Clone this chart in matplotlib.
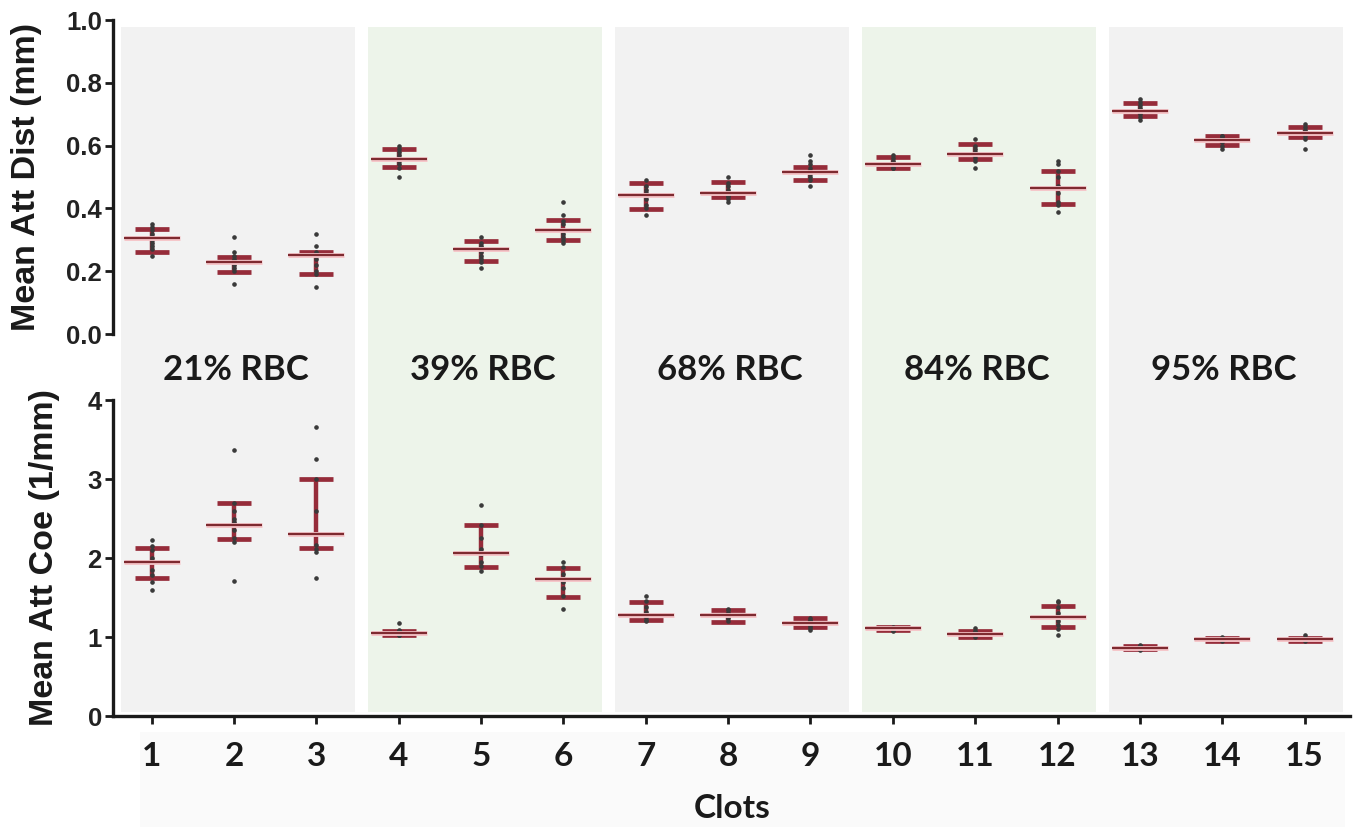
import matplotlib
matplotlib.use("Agg")
import matplotlib.pyplot as plt
import matplotlib.transforms as mtransforms
from matplotlib.patches import Rectangle

clots = list(range(1, 16))
groups = ["21% RBC", "39% RBC", "68% RBC", "84% RBC", "95% RBC"]

# mean attenuation distance (mm)
dist_mean = [0.305, 0.229, 0.252, 0.558, 0.270, 0.331, 0.443, 0.450, 0.517, 0.540, 0.572, 0.466, 0.711, 0.618, 0.639]
dist_hi = [0.334, 0.246, 0.262, 0.589, 0.297, 0.362, 0.480, 0.485, 0.533, 0.565, 0.604, 0.519, 0.737, 0.631, 0.658]
dist_lo = [0.262, 0.198, 0.190, 0.533, 0.232, 0.299, 0.399, 0.437, 0.490, 0.530, 0.556, 0.415, 0.695, 0.602, 0.626]
dist_pts = [
    [0.35, 0.34, 0.33, 0.32, 0.31, 0.30, 0.29, 0.28, 0.27, 0.25],
    [0.31, 0.26, 0.25, 0.24, 0.23, 0.22, 0.21, 0.20, 0.16],
    [0.32, 0.28, 0.26, 0.25, 0.24, 0.22, 0.20, 0.19, 0.15],
    [0.60, 0.59, 0.58, 0.57, 0.56, 0.55, 0.54, 0.53, 0.50],
    [0.31, 0.29, 0.28, 0.27, 0.26, 0.25, 0.24, 0.23, 0.21],
    [0.42, 0.38, 0.36, 0.35, 0.33, 0.32, 0.31, 0.30, 0.29],
    [0.49, 0.47, 0.46, 0.45, 0.44, 0.43, 0.41, 0.40, 0.38],
    [0.50, 0.48, 0.47, 0.46, 0.45, 0.44, 0.44, 0.43, 0.42],
    [0.57, 0.55, 0.54, 0.53, 0.52, 0.51, 0.50, 0.49, 0.47],
    [0.57, 0.56, 0.55, 0.54, 0.54, 0.53, 0.53],
    [0.62, 0.60, 0.59, 0.58, 0.57, 0.56, 0.55, 0.53],
    [0.55, 0.54, 0.52, 0.50, 0.47, 0.45, 0.42, 0.41, 0.39],
    [0.75, 0.74, 0.73, 0.72, 0.71, 0.70, 0.69, 0.68],
    [0.63, 0.63, 0.62, 0.62, 0.61, 0.60, 0.59],
    [0.67, 0.66, 0.65, 0.64, 0.63, 0.62, 0.59],
]

# mean attenuation coefficient (1/mm)
coe_mean = [1.945, 2.418, 2.30, 1.055, 2.06, 1.73, 1.282, 1.282, 1.173, 1.11, 1.038, 1.249, 0.865, 0.97, 0.97]
coe_hi = [2.13, 2.692, 2.996, 1.08, 2.418, 1.877, 1.447, 1.342, 1.236, 1.125, 1.08, 1.392, 0.88, 0.985, 0.99]
coe_lo = [1.743, 2.236, 2.123, 1.03, 1.89, 1.51, 1.215, 1.194, 1.13, 1.085, 1.00, 1.13, 0.845, 0.955, 0.95]
coe_pts = [
    [2.23, 2.15, 2.10, 2.00, 1.95, 1.85, 1.78, 1.70, 1.60],
    [3.37, 2.70, 2.60, 2.50, 2.45, 2.35, 2.25, 2.20, 1.71],
    [3.66, 3.25, 3.00, 2.60, 2.30, 2.17, 2.12, 2.08, 1.75],
    [1.18, 1.09, 1.08, 1.07, 1.06, 1.05, 1.04, 1.03, 1.02],
    [2.67, 2.42, 2.25, 2.12, 2.05, 1.95, 1.90, 1.83],
    [1.95, 1.88, 1.80, 1.75, 1.70, 1.62, 1.52, 1.35],
    [1.52, 1.45, 1.38, 1.32, 1.28, 1.25, 1.22, 1.20],
    [1.36, 1.34, 1.31, 1.29, 1.27, 1.24, 1.20],
    [1.24, 1.22, 1.20, 1.18, 1.16, 1.14, 1.12, 1.09],
    [1.13, 1.12, 1.11, 1.10, 1.09, 1.08],
    [1.12, 1.08, 1.06, 1.05, 1.04, 1.02, 1.00],
    [1.46, 1.44, 1.38, 1.30, 1.25, 1.20, 1.15, 1.10, 1.03],
    [0.90, 0.89, 0.88, 0.87, 0.86, 0.85, 0.84],
    [1.00, 0.99, 0.98, 0.97, 0.96, 0.95],
    [1.02, 0.99, 0.98, 0.97, 0.96, 0.95],
]

bar_col = '#962c3a'
mean_col = '#7e2a30'
band_cols = ['#f2f2f2', '#edf4ea']
yfont = 'Liberation Sans'
xfont = 'Lato'
W, H = 1358, 827

fig = plt.figure(figsize=(13.58, 8.27), dpi=100)
ax_top = fig.add_axes([0.0832, 0.5961, 0.9108, 0.3797])
ax_bot = fig.add_axes([0.0832, 0.1342, 0.9108, 0.3821])


def draw_panel(ax, mean, lo, hi, pts):
    for x, m, l, h, p in zip(clots, mean, lo, hi, pts):
        ax.errorbar([x], [m], yerr=[[m - l], [h - m]], fmt='none', ecolor=bar_col,
                    elinewidth=3.2, capsize=12, capthick=3.4, zorder=2)
        ax.plot([x] * len(p), p, 'o', ms=2.3, color='#3a3a3a', zorder=3)
        ax.errorbar([x], [m], xerr=0.34, fmt='none', ecolor='#f6c4c8', elinewidth=3.5, zorder=3.5)
        ax.errorbar([x], [m], xerr=0.34, fmt='none', ecolor=mean_col, elinewidth=1.6, zorder=4)
    ax.set_xlim(0.53, 15.55)
    ax.set_facecolor('none')
    for s in ['top', 'right']:
        ax.spines[s].set_visible(False)
    for s in ['left', 'bottom']:
        ax.spines[s].set_linewidth(2.4)
        ax.spines[s].set_color('#1a1a1a')
    ax.tick_params(axis='both', length=6, width=2.0, color='#1a1a1a')
    ax.tick_params(axis='y', pad=2)
    for lab in ax.get_yticklabels():
        lab.set_fontfamily(yfont)
        lab.set_fontweight('bold')
        lab.set_fontsize(18.5)
        lab.set_color('#222222')


ax_top.set_ylim(0, 1.0)
ax_top.set_yticks([0.0, 0.2, 0.4, 0.6, 0.8, 1.0])
ax_top.set_yticklabels(['0.0', '0.2', '0.4', '0.6', '0.8', '1.0'])
draw_panel(ax_top, dist_mean, dist_lo, dist_hi, dist_pts)
ax_top.spines['bottom'].set_visible(False)
ax_top.set_xticks([])

ax_bot.set_ylim(0, 4)
ax_bot.set_yticks([0, 1, 2, 3, 4])
ax_bot.set_yticklabels(['0', '1', '2', '3', '4'])
draw_panel(ax_bot, coe_mean, coe_lo, coe_hi, coe_pts)
ax_bot.set_xticks(clots)
ax_bot.set_xticklabels([str(c) for c in clots], fontfamily=xfont, fontweight='bold',
                       fontsize=24, color='#1a1a1a')
ax_bot.tick_params(axis='x', pad=13)

# y axis titles placed by hand, like the original figure
fig.text(27 / W, 1 - 177 / H, 'Mean Att Dist (mm)', rotation=90, ha='center', va='center',
         fontfamily=yfont, fontweight='bold', fontsize=24.5, color='#1a1a1a')
fig.text(45 / W, 1 - 558 / H, 'Mean Att Coe (1/mm)', rotation=90, ha='center', va='center',
         fontfamily=yfont, fontweight='bold', fontsize=24.5, color='#1a1a1a')
fig.text(732 / W, 1 - 808 / H, 'Clots', ha='center', va='center',
         fontfamily=xfont, fontweight='bold', fontsize=24, color='#1a1a1a')

# shaded group bands spanning both panels
trans = mtransforms.blended_transform_factory(ax_bot.transData, fig.transFigure)
fig.patches.append(Rectangle((140 / W, 0), 1205 / W, 95 / H, transform=fig.transFigure,
                             color='#fafafa', zorder=-2, lw=0))
for k, g in enumerate(groups):
    fig.patches.append(Rectangle((3 * k + 0.63, 0.139), 2.84, 0.828, transform=trans,
                                 color=band_cols[k % 2], zorder=-1, lw=0))
    fig.text(3 * k + 2.02, 1 - 370 / H, g, transform=trans, ha='center', va='center',
             fontfamily=xfont, fontweight='bold', fontsize=25, color='#1a1a1a')

fig.savefig('out.png', dpi=100)
